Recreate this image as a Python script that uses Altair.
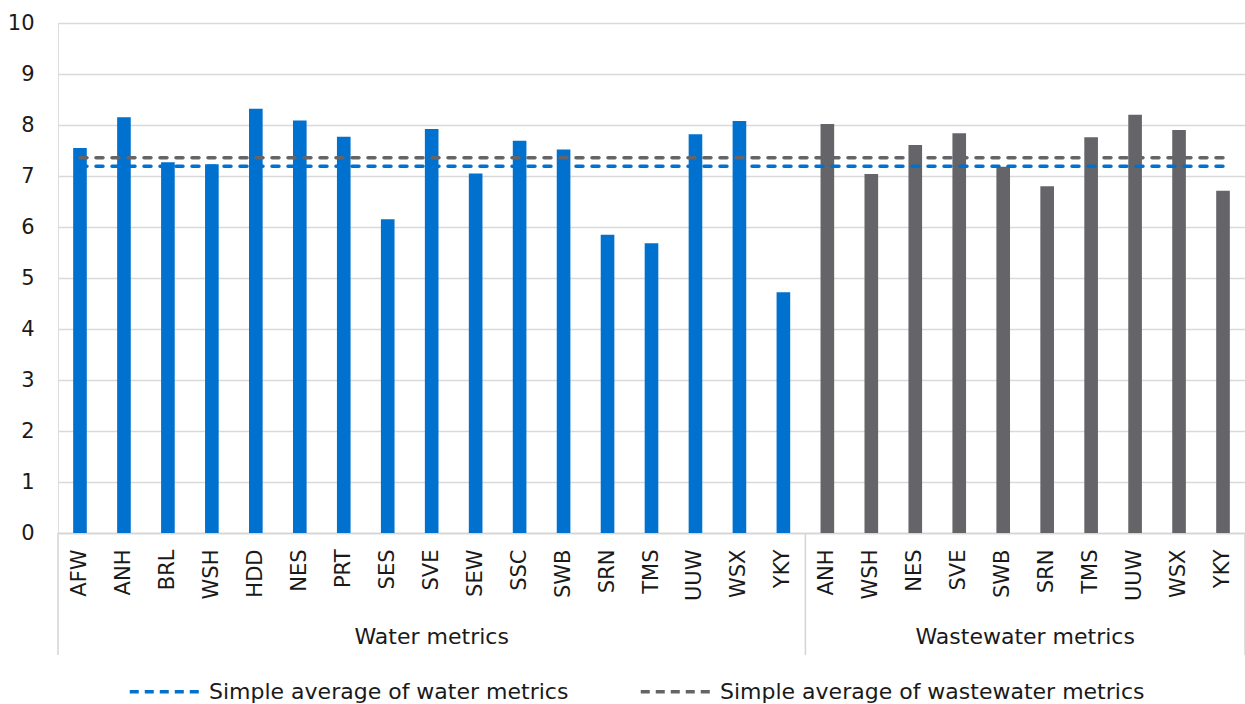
import altair as alt
import pandas as pd

# Company scores by metric group
water_companies = ["AFW", "ANH", "BRL", "WSH", "HDD", "NES", "PRT", "SES", "SVE",
                   "SEW", "SSC", "SWB", "SRN", "TMS", "UUW", "WSX", "YKY"]
water_scores = [7.55, 8.15, 7.27, 7.23, 8.32, 8.09, 7.77, 6.15, 7.92,
                7.05, 7.69, 7.52, 5.85, 5.68, 7.82, 8.08, 4.72]

wastewater_companies = ["ANH", "WSH", "NES", "SVE", "SWB", "SRN", "TMS", "UUW", "WSX", "YKY"]
wastewater_scores = [8.02, 7.04, 7.61, 7.84, 7.18, 6.80, 7.76, 8.20, 7.90, 6.71]

groups = ["Water metrics", "Wastewater metrics"]
average_labels = ["Simple average of water metrics", "Simple average of wastewater metrics"]
average_values = [7.19, 7.36]

BLUE = "#0071CE"
GREY = "#646469"
FONT = "DejaVu Sans"
TEXT = "#1a1a1a"

rows = []
for name, score in zip(water_companies, water_scores):
    rows.append({"key": f"W|{name}", "company": name, "group": groups[0], "score": score})
for name, score in zip(wastewater_companies, wastewater_scores):
    rows.append({"key": f"WW|{name}", "company": name, "group": groups[1], "score": score})
bars_df = pd.DataFrame(rows)
keys = list(bars_df["key"])

# Average lines run from the first to the last category
avg_rows = []
for label, value in zip(average_labels, average_values):
    avg_rows.append({"key": keys[0], "series": label, "value": value})
    avg_rows.append({"key": keys[-1], "series": label, "value": value})
avg_df = pd.DataFrame(avg_rows)

# Group spans in category units, for the group captions and separators
n_water = len(water_companies)
n_total = len(keys)
group_df = pd.DataFrame({
    "group": groups,
    "start": [0, n_water],
    "end": [n_water, n_total],
})
sep_df = pd.DataFrame({"pos": [0, n_water, n_total]})

W, H = 1187, 510

x_band = alt.X(
    "key:N",
    scale=alt.Scale(domain=keys, paddingInner=0.69, paddingOuter=0.345),
    axis=alt.Axis(
        title=None,
        labelExpr="split(datum.label, '|')[1]",
        labelAngle=270,
        labelFontSize=21,
        labelPadding=16,
        labelColor=TEXT,
        ticks=False,
        domainColor="#d4d4d4",
        domainWidth=1.5,
    ),
)
y_val = alt.Y(
    "score:Q",
    scale=alt.Scale(domain=[0, 10], nice=False),
    axis=alt.Axis(
        title=None,
        values=list(range(0, 11)),
        grid=True,
        gridColor="#d9d9d9",
        gridWidth=1.5,
        domain=False,
        ticks=False,
        labelFontSize=21,
        labelPadding=24,
        labelColor=TEXT,
    ),
)

bars = alt.Chart(bars_df).mark_bar().encode(
    x=x_band,
    y=y_val,
    color=alt.Color("group:N", scale=alt.Scale(domain=groups, range=[BLUE, GREY]), legend=None),
)

avg_lines = alt.Chart(avg_df).mark_line(
    strokeWidth=3.5, strokeDash=[7, 9], strokeCap="round"
).encode(
    x=alt.X("key:N", scale=alt.Scale(domain=keys), axis=None),
    y=alt.Y("value:Q"),
    color=alt.Color(
        "series:N",
        scale=alt.Scale(domain=average_labels, range=[BLUE, GREY]),
        legend=alt.Legend(
            title=None,
            orient="none",
            legendX=70,
            legendY=630,
            direction="horizontal",
            symbolType="stroke",
            symbolSize=5400,
            symbolStrokeWidth=3.5,
            symbolDash=[9, 6],
            labelFontSize=22,
            labelColor=TEXT,
            labelOffset=4,
            labelLimit=0,
            columnPadding=64,
            symbolOffset=0,
        ),
    ),
    detail="series:N",
)

idx_scale = alt.Scale(domain=[0, n_total], nice=False, zero=False)

captions = alt.Chart(group_df).transform_calculate(
    mid="(datum.start + datum.end) / 2"
).mark_text(fontSize=22, color=TEXT, baseline="middle", font=FONT).encode(
    x=alt.X("mid:Q", scale=idx_scale, axis=None),
    y=alt.value(614),
    text="group:N",
)

separators = alt.Chart(sep_df).mark_rule(color="#d4d4d4", strokeWidth=1.5).encode(
    x=alt.X("pos:Q", scale=idx_scale, axis=None),
    y=alt.value(H),
    y2=alt.value(632),
)

chart = alt.layer(bars, avg_lines, separators, captions).resolve_scale(
    x="independent", color="independent"
).properties(
    width=W,
    height=H,
    autosize=alt.AutoSizeParams(type="none"),
    padding={"left": 58, "top": 23, "right": 0, "bottom": 171},
).configure_view(stroke=None).configure(font=FONT)

chart.save("out.html", embed_options={"renderer": "svg", "actions": False})
